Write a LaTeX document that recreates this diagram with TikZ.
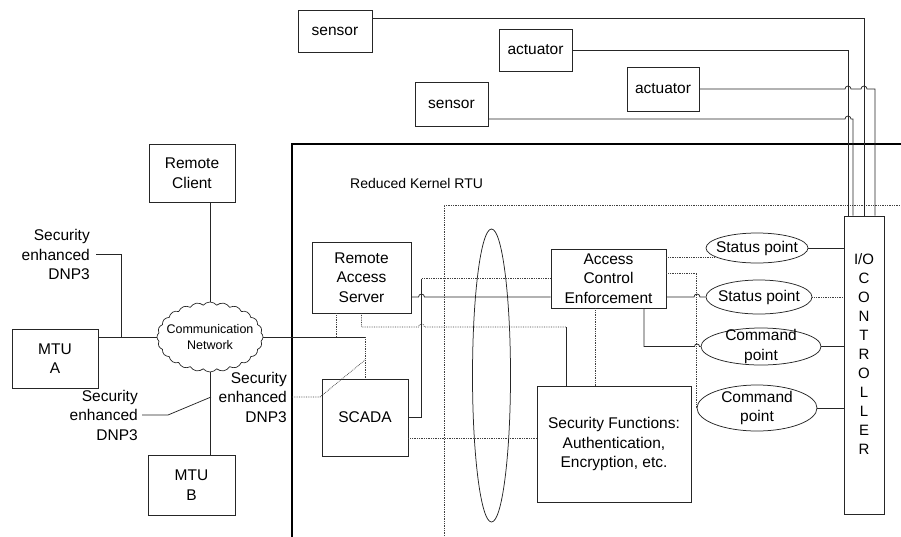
\documentclass[tikz,border=0pt]{standalone}
\usepackage{fontspec}
\setmainfont{Liberation Sans}
\usetikzlibrary{shapes.geometric,shapes.symbols,calc}

\newcommand{\fsnorm}{\fontsize{15.5}{19.5}\selectfont}
\newcommand{\hopover}{arc[start angle=180,end angle=0,radius=3pt]}

\begin{document}
\begin{tikzpicture}[x=1pt,y=-1pt,
  box/.style={draw=black!85, line width=0.75pt, inner sep=0pt, align=center, font=\fsnorm},
  oval/.style={ellipse, draw=black!85, line width=0.75pt, inner sep=0pt},
  ovaltext/.style={align=center, font=\fsnorm, inner sep=0pt},
  ln/.style={line width=0.75pt, draw=black!85},
  dl/.style={line width=0.75pt, draw=black!75, densely dotted},
  lbl/.style={align=right, font=\fsnorm, inner sep=0pt}]
\useasboundingbox (0,0) rectangle (901,536);

% ---------- field devices ----------
\node[box, minimum width=74pt, minimum height=42pt] (sensA) at (335,31) {sensor};
\node[box, minimum width=73pt, minimum height=42pt] (actA) at (535.5,50) {actuator};
\node[box, minimum width=73pt, minimum height=44pt] (sensB) at (451.5,104) {sensor};
\node[box, minimum width=72pt, minimum height=44pt] (actB) at (663,89) {actuator};

% ---------- RTU enclosure ----------
\draw[line width=2.8pt] (905,144) -- (292,144) -- (292,540);
\node[font=\fontsize{14}{16}\selectfont, anchor=west, inner sep=0pt] (rtulbl) at (350,183) {Reduced Kernel RTU};
\draw[dl] (905,205) -- (444,205) -- (444,540);

% ---------- I/O controller ----------
\node[box, minimum width=40pt, minimum height=298pt] (io) at (864,365) {};
\node[font=\fontsize{15}{19}\selectfont, align=center, inner sep=0pt] (iotxt) at (864,354)
  {I/O\\C\\O\\N\\T\\R\\O\\L\\L\\E\\R};

% ---------- RTU internals ----------
\node[box, minimum width=99pt, minimum height=71pt] (ras) at (361.5,277.5) {Remote\\Access\\Server};
\node[box, minimum width=115pt, minimum height=59pt] (ace) at (608.5,278.5) {Access\\Control\\Enforcement};
\node[box, minimum width=154pt, minimum height=116pt] (sf) at (614,444) {Security Functions:\\Authentication,\\Encryption, etc.};
\node[box, minimum width=86pt, minimum height=77pt] (scada) at (365,417.5) {SCADA};
\node[oval, minimum width=38pt, minimum height=293pt] (ring) at (491.5,375.5) {};

\node[oval, minimum width=102pt, minimum height=30pt,
  label={[ovaltext]center:Status point}] (st1) at (757,248) {};
\node[oval, minimum width=106pt, minimum height=34pt,
  label={[ovaltext]center:Status point}] (st2) at (759,297) {};
\node[oval, minimum width=120pt, minimum height=37pt,
  label={[ovaltext]center:Command\\point}] (cmd1) at (761,346.5) {};
\node[oval, minimum width=120pt, minimum height=46pt,
  label={[ovaltext]center:Command\\point}] (cmd2) at (757,408) {};

% ---------- outside network ----------
\node[box, minimum width=86pt, minimum height=58pt] (rc) at (192,173) {Remote\\Client};
\node[box, minimum width=86pt, minimum height=59pt] (mtua) at (55,358.5) {MTU\\A};
\node[box, minimum width=87pt, minimum height=60pt] (mtub) at (191.5,485) {MTU\\B};
\node[cloud, cloud puffs=24, cloud puff arc=100, cloud ignores aspect, draw=black!85,
  line width=0.7pt, minimum width=106pt, minimum height=70pt, inner sep=0pt,
  label={[align=center, inner sep=0pt, font=\fontsize{12.5}{16.5}\selectfont]center:Communication\\Network}]
  (net) at (210,337) {};

\node[lbl, anchor=east] (dnpA) at (90,254.5) {Security\\enhanced\\DNP3};
\node[lbl, anchor=east] (dnpB) at (138,415) {Security\\enhanced\\DNP3};
\node[lbl, anchor=east] (dnpC) at (287,397) {Security\\enhanced\\DNP3};

% ---------- tap points ----------
\coordinate (tapA) at (121,337);
\coordinate (tapB) at (211,397);
\coordinate (tapC) at (365,360);
\coordinate (rasL) at ([xshift=-25.5pt]ras.south);
\coordinate (rasR) at ([yshift=-19.5pt]ras.east);
\coordinate (bendR) at (566,327);
\coordinate (kneeT) at (421.5,278.5);
\coordinate (aceL) at ([xshift=-13.5pt]ace.south);
\coordinate (aceR) at ([xshift=35.5pt]ace.south);
\coordinate (scR) at ([yshift=-20.5pt]scada.east);

% ---------- field wiring ----------
\draw[ln] ([yshift=13pt]sensA.east) -| (io.north);
\draw[ln] (actA.east) -| ([xshift=-16pt]io.north);
\draw[ln] (actB.east) -- (845,89) \hopover -- (861,89) \hopover -| ([xshift=11pt]io.north);
\draw[ln] ([yshift=-15pt]sensB.east) -- (845,119) \hopover -| ([xshift=-11pt]io.north);

% ---------- points to I/O controller ----------
\draw[ln] (st1.east) -- (st1.east -| io.west);
\draw[dl] (st2.east) -- (st2.east -| io.west);
\draw[ln] (cmd1.east) -- (cmd1.east -| io.west);
\draw[ln] (cmd2.east) -- (cmd2.east -| io.west);

% ---------- access control enforcement ----------
\draw[dl] (ace.east |- st1.192) -- (st1.192);
\draw[dl] ([yshift=5.5pt]ace.east) -| (cmd2.west);
\draw[ln] (ace.east |- st2.west) -- (694,297) \hopover -- (st2.west);
\draw[ln] (aceR) |- (694.5,346.5) arc[start angle=180,end angle=0,radius=2.5pt] -- (cmd1.west);
\draw[dl] (aceL) -- (aceL |- sf.north);

% ---------- remote access server and SCADA ----------
\draw[ln] (rasR) -- (418.5,297) \hopover -- (rasR -| ace.west);
\draw[dl] (ras.south) |- (418.5,327) \hopover -- (bendR);
\draw[ln] (bendR) -- (bendR |- sf.north);
\draw[dl] (ace.west) -- (kneeT);
\draw[ln] (kneeT) |- (scada.east);
\draw[dl] (scR) -- (scR -| sf.west);
\draw[dl] (rasL) -- (rasL |- net.east);

% ---------- communication network ----------
\draw[ln] (rc.south -| net.north) -- (net.north);
\draw[ln] (net.south) -- (net.south |- mtub.north);
\draw[ln] (mtua.east |- net.west) -- (net.west);
\draw[ln] (net.east) -- (net.east -| scada.north);
\draw[dl] (net.east -| scada.north) -- (scada.north);

% ---------- protocol callouts ----------
\draw[ln] ([xshift=6pt]dnpA.east) -| (tapA);
\draw[ln] ([xshift=4pt]dnpB.east) -- ++(26,0) -- (tapB);
\draw[dl] ([xshift=5pt]dnpC.east) -- (320,397) -- (tapC);
\end{tikzpicture}
\end{document}
